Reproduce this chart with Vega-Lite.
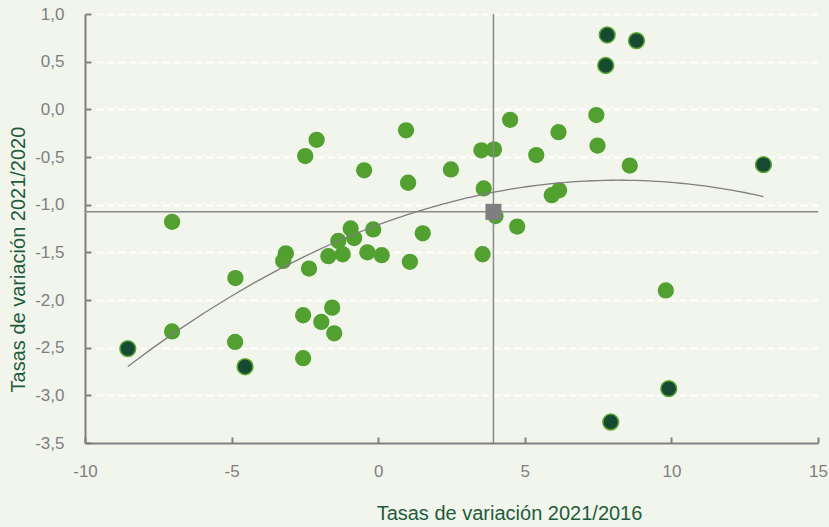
{
  "$schema": "https://vega.github.io/schema/vega-lite/v6.json",
  "width": 733,
  "height": 429,
  "autosize": {"type": "none"},
  "padding": {"left": 85, "top": 14, "right": 11, "bottom": 84},
  "background": "#f2f5ec",
  "config": {
    "view": {"stroke": null},
    "locale": {"number": {"decimal": ",", "thousands": ".", "grouping": [3], "currency": ["", " €"], "minus": "-"}},
    "font": "Liberation Sans"
  },
  "datasets": {
    "pts": [
      {"x": -2.10, "y": -0.32, "g": "a"},
      {"x": -2.49, "y": -0.49, "g": "a"},
      {"x": 0.95, "y": -0.22, "g": "a"},
      {"x": -0.48, "y": -0.64, "g": "a"},
      {"x": 1.02, "y": -0.77, "g": "a"},
      {"x": -0.94, "y": -1.25, "g": "a"},
      {"x": -0.17, "y": -1.26, "g": "a"},
      {"x": -1.36, "y": -1.38, "g": "a"},
      {"x": -0.82, "y": -1.35, "g": "a"},
      {"x": 1.52, "y": -1.30, "g": "a"},
      {"x": -3.15, "y": -1.51, "g": "a"},
      {"x": -3.24, "y": -1.59, "g": "a"},
      {"x": -1.70, "y": -1.54, "g": "a"},
      {"x": -1.21, "y": -1.52, "g": "a"},
      {"x": -0.37, "y": -1.50, "g": "a"},
      {"x": 0.12, "y": -1.53, "g": "a"},
      {"x": 1.08, "y": -1.60, "g": "a"},
      {"x": -2.36, "y": -1.67, "g": "a"},
      {"x": -1.57, "y": -2.08, "g": "a"},
      {"x": -2.56, "y": -2.16, "g": "a"},
      {"x": -1.94, "y": -2.23, "g": "a"},
      {"x": -1.50, "y": -2.35, "g": "a"},
      {"x": -2.56, "y": -2.61, "g": "a"},
      {"x": 4.50, "y": -0.11, "g": "a"},
      {"x": 7.44, "y": -0.06, "g": "a"},
      {"x": 6.15, "y": -0.24, "g": "a"},
      {"x": 7.48, "y": -0.38, "g": "a"},
      {"x": 3.52, "y": -0.43, "g": "a"},
      {"x": 3.95, "y": -0.42, "g": "a"},
      {"x": 5.39, "y": -0.48, "g": "a"},
      {"x": 2.48, "y": -0.63, "g": "a"},
      {"x": 8.58, "y": -0.59, "g": "a"},
      {"x": 3.60, "y": -0.83, "g": "a"},
      {"x": 6.17, "y": -0.85, "g": "a"},
      {"x": 5.92, "y": -0.90, "g": "a"},
      {"x": 4.00, "y": -1.12, "g": "a"},
      {"x": 4.74, "y": -1.23, "g": "a"},
      {"x": -7.03, "y": -1.18, "g": "a"},
      {"x": -4.87, "y": -1.77, "g": "a"},
      {"x": -7.03, "y": -2.33, "g": "a"},
      {"x": -4.88, "y": -2.44, "g": "a"},
      {"x": 3.56, "y": -1.52, "g": "a"},
      {"x": 9.81, "y": -1.90, "g": "a"},
      {"x": -8.54, "y": -2.51, "g": "b"},
      {"x": -4.54, "y": -2.70, "g": "b"},
      {"x": 7.81, "y": 0.78, "g": "b"},
      {"x": 8.81, "y": 0.72, "g": "b"},
      {"x": 7.76, "y": 0.46, "g": "b"},
      {"x": 13.14, "y": -0.58, "g": "b"},
      {"x": 9.91, "y": -2.93, "g": "b"},
      {"x": 7.93, "y": -3.28, "g": "b"}
    ],
    "media": [{"x": 3.93, "y": -1.075}]
  },
  "encoding": {
    "x": {
      "field": "x", "type": "quantitative",
      "scale": {"domain": [-10, 15], "nice": false, "zero": false},
      "axis": {
        "title": "Tasas de variación 2021/2016",
        "values": [-10, -5, 0, 5, 10, 15],
        "format": "d",
        "grid": false,
        "domainColor": "#7f7f7f", "domainWidth": 2,
        "tickColor": "#7f7f7f", "tickWidth": 2, "tickSize": -6,
        "labelColor": "#7f7f7f", "labelFontSize": 17, "labelPadding": 26,
        "labelFlush": false,
        "titleColor": "#1f5c3c", "titleFontSize": 20, "titleFontWeight": "normal",
        "titleX": 424, "titleY": 70, "titleAlign": "center", "titleBaseline": "middle"
      }
    },
    "y": {
      "field": "y", "type": "quantitative",
      "scale": {"domain": [-3.5, 1], "nice": false, "zero": false},
      "axis": {
        "title": "Tasas de variación 2021/2020",
        "values": [-3.5, -3, -2.5, -2, -1.5, -1, -0.5, 0, 0.5, 1],
        "format": ".1f",
        "grid": true, "gridColor": "#ffffff", "gridWidth": 2, "gridDash": [7, 4],
        "domainColor": "#7f7f7f", "domainWidth": 2,
        "tickColor": "#7f7f7f", "tickWidth": 2, "tickSize": -6,
        "labelColor": "#7f7f7f", "labelFontSize": 17, "labelPadding": 27,
        "labelFlush": false,
        "titleColor": "#1f5c3c", "titleFontSize": 20, "titleFontWeight": "normal",
        "titleX": -67, "titleY": 245, "titleAngle": -90, "titleAlign": "center", "titleBaseline": "middle"
      }
    }
  },
  "layer": [
    {
      "data": {"name": "pts"},
      "transform": [{"filter": "datum.g == 'a'"}],
      "mark": {"type": "circle", "size": 265, "opacity": 1, "color": "#52a02f"}
    },
    {
      "data": {"name": "pts"},
      "transform": [{"filter": "datum.g == 'b'"}],
      "mark": {"type": "circle", "size": 250, "opacity": 1, "fill": "#164a33", "stroke": "#5aa832", "strokeWidth": 1.5}
    },
    {
      "data": {"name": "media"},
      "mark": {"type": "rule", "color": "#8a8a8a", "strokeWidth": 1.5},
      "encoding": {"y": null, "x": {"field": "x", "type": "quantitative"}}
    },
    {
      "data": {"name": "media"},
      "mark": {"type": "rule", "color": "#8a8a8a", "strokeWidth": 1.5},
      "encoding": {"x": null, "y": {"field": "y", "type": "quantitative"}}
    },
    {
      "data": {"name": "pts"},
      "transform": [{"regression": "y", "on": "x", "method": "poly", "order": 2, "extent": [-8.54, 13.14]}],
      "mark": {"type": "line", "color": "#7f7f7f", "strokeWidth": 1.3}
    },
    {
      "data": {"name": "media"},
      "mark": {"type": "square", "size": 256, "opacity": 1, "color": "#7f7f7f"}
    }
  ]
}
